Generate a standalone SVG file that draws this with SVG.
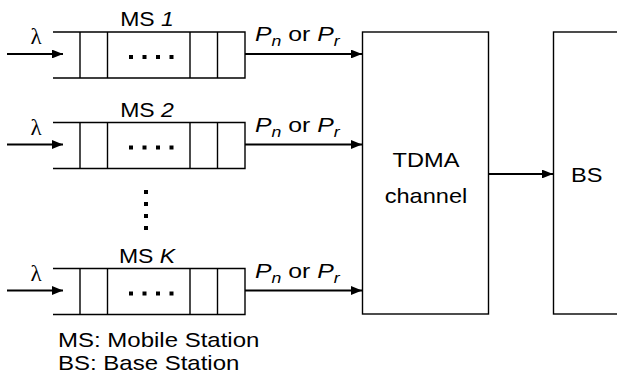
<svg xmlns="http://www.w3.org/2000/svg" width="617" height="384" viewBox="0 0 617 384">
<style>
.ln{stroke:#000;stroke-width:1.4;fill:none}
.ar{stroke:#000;stroke-width:2.2;fill:none;marker-end:url(#ah)}
.t{font-family:"Liberation Sans",Arial,sans-serif;font-size:20px;fill:#000}
.m{text-anchor:middle}
.i{font-style:italic}
.p{font-size:21px}
.s{font-size:15px;font-style:italic}
.lam{font-family:"Liberation Serif","Times New Roman",serif;font-size:23px;fill:#000;text-anchor:middle}
.d{fill:#000}
</style>
<defs>
<marker id="ah" viewBox="0 0 10 8" refX="10" refY="4" markerWidth="5" markerHeight="4" orient="auto" markerUnits="strokeWidth">
<path d="M0,0 L10,4 L0,8 Z" fill="#000"/>
</marker>
<g id="queue">
<path class="ln" d="M53,0 H245 V46 H53 M80,0 V46 M107.5,0 V46 M190,0 V46 M217.5,0 V46"/>
<rect class="d" x="129" y="23" width="4" height="4"/>
<rect class="d" x="142.5" y="23" width="4" height="4"/>
<rect class="d" x="156" y="23" width="4" height="4"/>
<rect class="d" x="169.5" y="23" width="4" height="4"/>
</g>
</defs>
<g id="ms1">
<use href="#queue" transform="translate(0,32)"/>
<text class="t m" transform="translate(147,26) scale(1.15,1)">MS <tspan class="i">1</tspan></text>
<text class="lam" x="36" y="44">λ</text>
</g>
<g id="ms2">
<use href="#queue" transform="translate(0,122.5)"/>
<text class="t m" transform="translate(147,116.5) scale(1.15,1)">MS <tspan class="i">2</tspan></text>
<text class="lam" x="36" y="134.5">λ</text>
</g>
<g id="vdots">
<rect class="d" x="144" y="190" width="4" height="4"/>
<rect class="d" x="144" y="202" width="4" height="4"/>
<rect class="d" x="144" y="214" width="4" height="4"/>
<rect class="d" x="144" y="226" width="4" height="4"/>
</g>
<g id="msK">
<use href="#queue" transform="translate(0,268.5)"/>
<text class="t m" transform="translate(147,262.5) scale(1.15,1)">MS <tspan class="i">K</tspan></text>
<text class="lam" x="36" y="280.5">λ</text>
</g>
<g id="tdma">
<rect class="ln" x="362.5" y="32" width="126" height="282"/>
<text class="t m" transform="translate(426,167) scale(1.18,1)">TDMA</text>
<text class="t m" transform="translate(426,203) scale(1.18,1)">channel</text>
</g>
<g id="bs">
<rect class="ln" x="553.5" y="32" width="80" height="282"/>
<text class="t" transform="translate(571,182) scale(1.18,1)">BS</text>
</g>
<g id="connectors">
<line class="ar" x1="7" y1="54" x2="63" y2="54"/>
<line class="ar" x1="7" y1="144.5" x2="63" y2="144.5"/>
<line class="ar" x1="7" y1="290.5" x2="63" y2="290.5"/>
<line class="ar" x1="245" y1="54" x2="362" y2="54"/>
<line class="ar" x1="245" y1="144.5" x2="362" y2="144.5"/>
<line class="ar" x1="245" y1="290.5" x2="362" y2="290.5"/>
<line class="ar" x1="488.5" y1="174" x2="553" y2="174"/>
</g>
<g id="labels">
<text class="t p" transform="translate(255,41) scale(1.18,1)"><tspan class="i">P</tspan><tspan class="s" dy="5">n</tspan><tspan dy="-5"> or </tspan><tspan class="i">P</tspan><tspan class="s" dy="5">r</tspan></text>
<text class="t p" transform="translate(255,131.5) scale(1.18,1)"><tspan class="i">P</tspan><tspan class="s" dy="5">n</tspan><tspan dy="-5"> or </tspan><tspan class="i">P</tspan><tspan class="s" dy="5">r</tspan></text>
<text class="t p" transform="translate(255,277.5) scale(1.18,1)"><tspan class="i">P</tspan><tspan class="s" dy="5">n</tspan><tspan dy="-5"> or </tspan><tspan class="i">P</tspan><tspan class="s" dy="5">r</tspan></text>
<text class="t" transform="translate(58,347) scale(1.2,1)">MS: Mobile Station</text>
<text class="t" transform="translate(58,370) scale(1.2,1)">BS: Base Station</text>
</g>
</svg>
